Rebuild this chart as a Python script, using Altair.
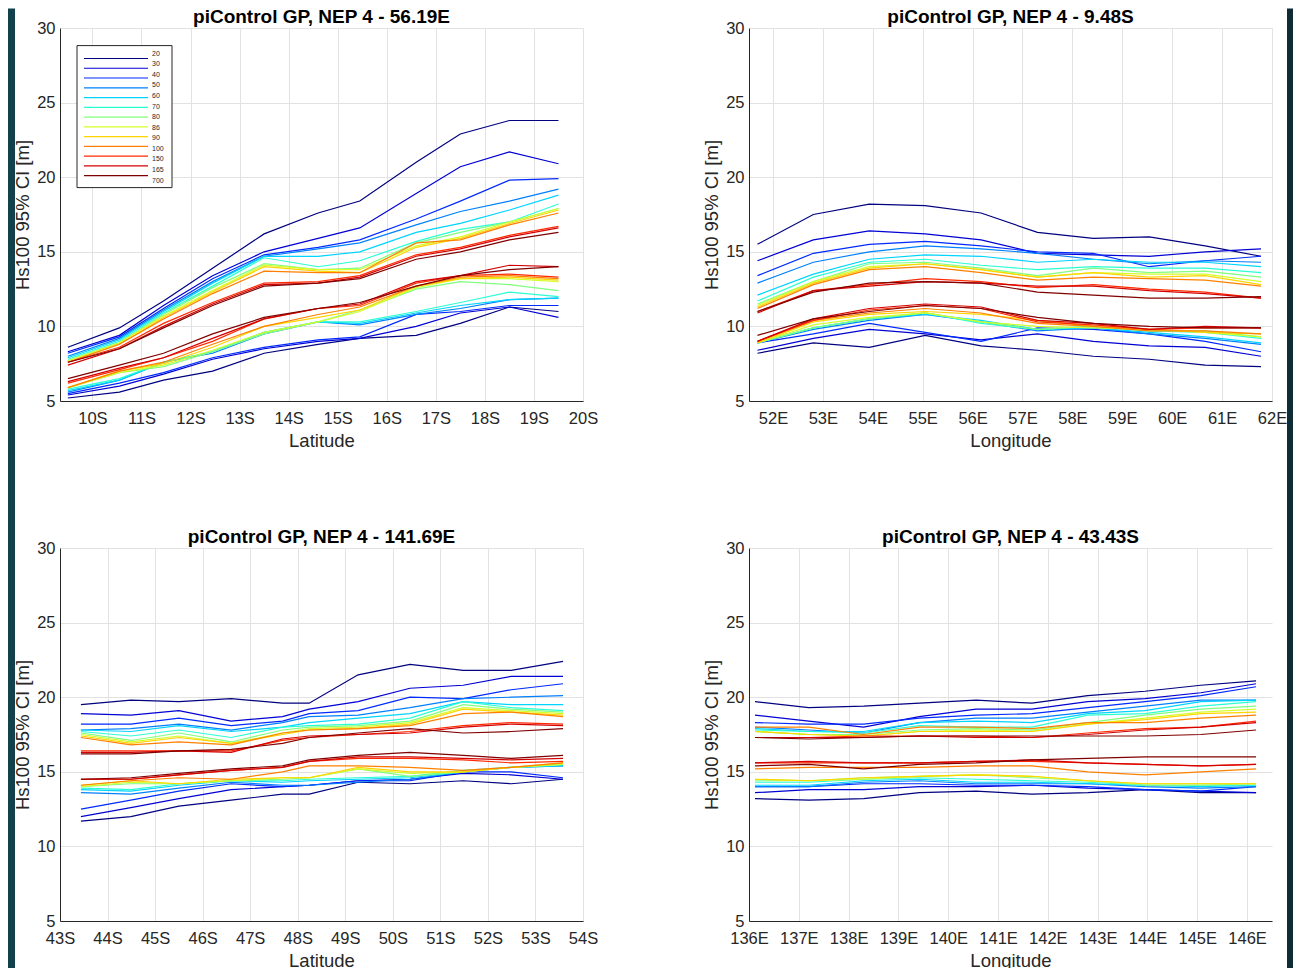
import altair as alt
import pandas as pd

FONT = "Liberation Sans"

RP = ["20", "30", "40", "50", "60", "70", "80", "86", "90", "100", "150", "165", "700"]
JET = ["#000080", "#0000d4", "#002aff", "#0080ff", "#00d4ff", "#2affd4", "#80ff80",
       "#d4ff2a", "#ffd400", "#ff8000", "#ff2a00", "#d40000", "#800000"]

# ---------------- panel 1 : latitude transect at 56.19E ----------------
P1_X = [9.5, 10.55, 11.45, 12.45, 13.5, 14.6, 15.45, 16.6, 17.5, 18.5, 19.5]
P1_UPPER = {
    "20": [8.6, 9.9, 11.7, 13.9, 16.2, 17.6, 18.4, 21.0, 22.9, 23.8, 23.8],
    "30": [8.3, 9.4, 11.4, 13.4, 15.0, 15.9, 16.6, 18.9, 20.7, 21.7, 20.9],
    "40": [8.2, 9.3, 11.2, 13.2, 14.8, 15.3, 15.8, 17.2, 18.4, 19.8, 19.9],
    "50": [8.0, 9.2, 11.1, 13.0, 14.7, 15.2, 15.6, 16.8, 17.7, 18.4, 19.2],
    "60": [7.9, 9.1, 11.0, 12.9, 14.7, 14.7, 15.0, 16.3, 16.9, 17.8, 18.8],
    "70": [7.8, 9.0, 10.9, 12.7, 14.6, 14.0, 14.4, 15.7, 16.5, 17.0, 18.2],
    "80": [7.7, 8.9, 10.8, 12.6, 14.2, 13.8, 13.9, 15.6, 16.3, 17.0, 17.9],
    "86": [7.7, 8.9, 10.7, 12.4, 14.1, 13.8, 13.8, 15.4, 16.0, 17.0, 17.9],
    "90": [7.6, 8.8, 10.6, 12.3, 14.0, 13.7, 13.6, 15.3, 15.9, 16.9, 17.8],
    "100": [7.6, 8.8, 10.5, 12.2, 13.7, 13.6, 13.6, 15.6, 15.8, 16.8, 17.6],
    "150": [7.6, 8.6, 10.2, 11.6, 12.9, 13.0, 13.4, 14.8, 15.3, 16.1, 16.7],
    "165": [7.4, 8.5, 10.0, 11.5, 12.8, 12.9, 13.3, 14.7, 15.2, 16.0, 16.6],
    "700": [7.6, 8.5, 9.9, 11.4, 12.7, 12.9, 13.2, 14.5, 15.0, 15.8, 16.3],
}
P1_LOWER = {
    "20": [5.2, 5.6, 6.4, 7.0, 8.2, 8.8, 9.2, 9.4, 10.2, 11.3, 11.0],
    "30": [5.4, 6.0, 6.8, 7.8, 8.5, 9.0, 9.2, 10.0, 10.9, 11.3, 10.6],
    "40": [5.5, 6.2, 6.9, 7.9, 8.6, 9.1, 9.3, 10.8, 11.0, 11.4, 11.4],
    "50": [5.6, 6.4, 7.6, 8.2, 9.5, 10.3, 10.1, 10.8, 11.2, 11.8, 11.9],
    "60": [5.7, 6.4, 7.6, 8.3, 9.6, 10.3, 10.2, 10.9, 11.4, 11.8, 11.9],
    "70": [5.8, 6.5, 7.6, 8.3, 9.6, 10.3, 10.3, 11.0, 11.6, 12.3, 12.0],
    "80": [5.9, 6.9, 7.3, 8.3, 9.5, 10.3, 11.1, 12.5, 13.0, 12.8, 12.4],
    "86": [5.9, 6.9, 7.4, 8.4, 9.6, 10.3, 11.0, 12.6, 13.2, 13.2, 13.0],
    "90": [5.9, 7.0, 7.5, 8.6, 10.0, 10.6, 11.1, 12.7, 13.2, 13.3, 13.1],
    "100": [5.9, 7.0, 7.6, 8.8, 10.0, 10.8, 11.3, 12.7, 13.3, 13.4, 13.2],
    "150": [6.2, 7.1, 7.9, 9.0, 10.5, 11.2, 11.4, 12.9, 13.4, 13.5, 13.3],
    "165": [6.3, 7.2, 7.9, 9.2, 10.5, 11.2, 11.5, 13.0, 13.4, 14.1, 14.0],
    "700": [6.5, 7.4, 8.2, 9.5, 10.6, 11.2, 11.6, 12.7, 13.4, 13.8, 14.0],
}

# ---------------- panel 2 : longitude transect at 9.48S ----------------
P2_X = [51.69, 52.81, 53.93, 55.05, 56.17, 57.3, 58.42, 59.54, 60.66, 61.78]
P2_UPPER = {
    "20": [15.5, 17.5, 18.2, 18.1, 17.6, 16.3, 15.9, 16.0, 15.4, 14.7],
    "30": [14.4, 15.8, 16.4, 16.2, 15.8, 14.9, 14.8, 14.7, 15.0, 15.2],
    "40": [13.4, 14.9, 15.5, 15.7, 15.4, 15.0, 14.9, 14.0, 14.4, 14.7],
    "50": [12.9, 14.3, 15.0, 15.4, 15.2, 14.9, 14.5, 14.2, 14.4, 14.3],
    "60": [12.1, 13.5, 14.5, 14.8, 14.7, 14.3, 14.5, 14.3, 14.3, 14.0],
    "70": [11.7, 13.3, 14.3, 14.5, 14.1, 13.8, 14.0, 13.9, 13.9, 13.6],
    "80": [11.5, 13.0, 14.2, 14.3, 13.9, 13.4, 13.9, 13.6, 13.7, 13.3],
    "86": [11.4, 13.0, 14.0, 14.2, 13.8, 13.3, 13.6, 13.5, 13.5, 13.0],
    "90": [11.3, 12.9, 13.9, 14.2, 13.8, 13.3, 13.6, 13.3, 13.4, 12.8],
    "100": [11.2, 12.8, 13.8, 14.0, 13.6, 13.1, 13.3, 13.2, 13.1, 12.7],
    "150": [11.0, 12.4, 12.8, 13.2, 13.0, 12.6, 12.8, 12.5, 12.3, 11.9],
    "165": [10.9, 12.4, 12.7, 13.0, 12.9, 12.7, 12.7, 12.4, 12.2, 11.9],
    "700": [11.0, 12.3, 12.9, 13.0, 12.9, 12.3, 12.1, 11.9, 11.9, 12.0],
}
P2_LOWER = {
    "20": [8.2, 8.9, 8.6, 9.4, 8.7, 8.4, 8.0, 7.8, 7.4, 7.3],
    "30": [8.4, 9.2, 9.8, 9.5, 9.1, 9.5, 9.0, 8.7, 8.6, 8.0],
    "40": [8.9, 9.5, 10.2, 9.6, 9.0, 9.9, 9.8, 9.5, 9.0, 8.3],
    "50": [8.9, 9.8, 10.4, 10.8, 10.3, 9.7, 9.9, 9.5, 9.2, 8.8],
    "60": [8.9, 9.9, 10.5, 10.8, 10.4, 9.8, 9.9, 9.6, 9.3, 8.9],
    "70": [8.9, 9.9, 10.5, 10.9, 10.2, 9.8, 10.0, 9.7, 9.6, 9.2],
    "80": [8.9, 9.9, 10.5, 10.9, 10.3, 9.8, 10.0, 9.7, 9.7, 9.3],
    "86": [8.9, 10.1, 10.6, 10.9, 10.3, 10.0, 9.9, 9.8, 9.6, 9.3],
    "90": [8.9, 10.3, 10.8, 11.0, 10.8, 10.4, 10.0, 9.8, 9.6, 9.5],
    "100": [9.0, 10.4, 10.9, 11.2, 10.9, 10.2, 10.0, 9.7, 9.7, 9.5],
    "150": [9.0, 10.4, 11.1, 11.4, 11.2, 10.3, 10.1, 9.8, 9.9, 9.9],
    "165": [9.0, 10.5, 11.2, 11.5, 11.3, 10.4, 10.2, 9.8, 10.0, 9.9],
    "700": [9.4, 10.5, 11.0, 11.4, 11.2, 10.6, 10.2, 10.0, 9.9, 9.9],
}

# ---------------- panel 3 : latitude transect at 141.69E ----------------
P3_X = [43.44, 44.49, 45.5, 46.6, 47.68, 48.24, 49.27, 50.36, 51.48, 52.49, 53.58]
P3_UPPER = {
    "20": [19.5, 19.8, 19.7, 19.9, 19.6, 19.6, 21.5, 22.2, 21.8, 21.8, 22.4],
    "30": [18.9, 18.8, 19.1, 18.4, 18.7, 19.2, 19.7, 20.6, 20.8, 21.4, 21.4],
    "40": [18.2, 18.2, 18.6, 18.1, 18.4, 18.9, 19.1, 20.0, 19.9, 20.5, 20.9],
    "50": [17.8, 17.9, 18.2, 17.8, 18.3, 18.7, 18.8, 19.3, 19.9, 20.0, 20.1],
    "60": [17.8, 17.7, 18.1, 17.7, 18.0, 18.3, 18.6, 18.9, 19.7, 19.5, 19.5],
    "70": [17.7, 17.4, 17.8, 17.3, 18.0, 18.1, 18.2, 18.6, 19.7, 19.3, 19.1],
    "80": [17.6, 17.1, 17.6, 17.0, 17.8, 18.0, 18.1, 18.4, 19.5, 19.2, 19.0],
    "86": [17.5, 17.0, 17.4, 16.9, 17.6, 17.9, 18.0, 18.3, 19.3, 19.1, 18.9],
    "90": [17.4, 16.9, 17.3, 16.9, 17.5, 17.8, 17.9, 18.2, 19.2, 19.0, 18.8],
    "100": [17.3, 16.8, 17.0, 16.8, 17.6, 17.8, 17.9, 18.1, 18.9, 19.0, 18.7],
    "150": [16.4, 16.4, 16.4, 16.4, 17.1, 17.3, 17.5, 17.7, 18.1, 18.3, 18.2],
    "165": [16.3, 16.3, 16.4, 16.3, 17.2, 17.4, 17.5, 17.6, 18.0, 18.2, 18.1],
    "700": [16.2, 16.2, 16.4, 16.5, 16.9, 17.3, 17.6, 17.9, 17.6, 17.7, 17.9],
}
P3_LOWER = {
    "20": [11.7, 12.0, 12.7, 13.1, 13.5, 13.5, 14.3, 14.2, 14.4, 14.2, 14.5],
    "30": [12.0, 12.6, 13.2, 13.8, 14.0, 14.1, 14.4, 14.5, 14.9, 14.8, 14.5],
    "40": [12.5, 13.1, 13.7, 14.2, 14.0, 14.1, 14.4, 14.4, 15.0, 15.0, 14.6],
    "50": [13.6, 13.5, 13.9, 14.3, 14.1, 14.1, 14.3, 14.5, 15.0, 15.3, 15.4],
    "60": [13.8, 13.7, 14.1, 14.4, 14.3, 14.4, 14.5, 14.6, 15.0, 15.3, 15.4],
    "70": [13.9, 13.8, 14.2, 14.4, 14.4, 14.5, 14.6, 14.7, 15.1, 15.3, 15.5],
    "80": [14.0, 14.2, 14.2, 14.4, 14.5, 14.6, 15.2, 14.7, 15.0, 15.3, 15.5],
    "86": [14.0, 14.3, 14.2, 14.4, 14.6, 14.6, 15.2, 14.9, 15.0, 15.3, 15.5],
    "90": [14.1, 14.4, 14.2, 14.5, 14.6, 14.6, 15.3, 15.0, 15.0, 15.3, 15.6],
    "100": [14.1, 14.4, 14.6, 14.5, 15.0, 15.4, 15.4, 15.3, 15.1, 15.3, 15.6],
    "150": [14.5, 14.5, 14.8, 15.1, 15.3, 15.7, 15.9, 15.9, 15.8, 15.6, 15.7],
    "165": [14.5, 14.5, 14.8, 15.1, 15.3, 15.7, 16.0, 16.0, 15.9, 15.8, 15.9],
    "700": [14.5, 14.6, 14.9, 15.2, 15.4, 15.8, 16.1, 16.3, 16.1, 15.9, 16.1],
}

# ---------------- panel 4 : longitude transect at 43.43S ----------------
P4_X = [136.12, 137.2, 138.3, 139.42, 140.56, 141.68, 142.8, 143.95, 145.07, 146.18]
P4_UPPER = {
    "20": [19.7, 19.3, 19.4, 19.6, 19.8, 19.6, 20.1, 20.4, 20.8, 21.1],
    "30": [18.8, 18.4, 18.0, 18.7, 19.2, 19.2, 19.7, 19.9, 20.3, 20.9],
    "40": [18.3, 18.2, 18.2, 18.6, 18.8, 18.9, 19.3, 19.7, 20.1, 20.7],
    "50": [18.0, 17.8, 17.6, 18.3, 18.6, 18.6, 19.0, 19.4, 19.8, 19.8],
    "60": [17.9, 17.7, 17.7, 18.3, 18.4, 18.3, 18.9, 19.1, 19.7, 19.8],
    "70": [17.8, 17.7, 17.6, 18.1, 18.0, 18.0, 18.8, 18.9, 19.4, 19.7],
    "80": [17.7, 17.5, 17.5, 17.8, 17.9, 17.8, 18.3, 18.8, 19.2, 19.4],
    "86": [17.7, 17.5, 17.4, 17.7, 17.8, 17.7, 18.2, 18.6, 19.0, 19.2],
    "90": [17.7, 17.5, 17.4, 17.7, 17.7, 17.7, 18.2, 18.5, 18.9, 19.0],
    "100": [18.0, 18.0, 17.5, 18.0, 18.0, 17.9, 18.3, 18.3, 18.6, 18.8],
    "150": [17.3, 17.3, 17.4, 17.4, 17.4, 17.3, 17.6, 17.9, 18.0, 18.4],
    "165": [17.3, 17.3, 17.3, 17.4, 17.3, 17.3, 17.5, 17.8, 18.0, 18.3],
    "700": [17.3, 17.2, 17.3, 17.4, 17.4, 17.4, 17.4, 17.4, 17.5, 17.8],
}
P4_LOWER = {
    "20": [13.2, 13.1, 13.2, 13.6, 13.7, 13.5, 13.6, 13.8, 13.6, 13.6],
    "30": [13.6, 13.8, 13.8, 14.0, 14.0, 14.1, 13.9, 13.8, 13.7, 13.6],
    "40": [14.0, 14.0, 14.2, 14.2, 14.1, 14.1, 14.0, 13.8, 13.7, 14.0],
    "50": [14.0, 14.0, 14.3, 14.4, 14.2, 14.2, 14.2, 14.0, 13.9, 14.0],
    "60": [14.1, 14.1, 14.4, 14.5, 14.3, 14.3, 14.2, 14.1, 14.0, 14.1],
    "70": [14.3, 14.3, 14.5, 14.6, 14.5, 14.4, 14.3, 14.1, 14.1, 14.1],
    "80": [14.4, 14.4, 14.6, 14.7, 14.8, 14.6, 14.4, 14.1, 14.1, 14.2],
    "86": [14.5, 14.4, 14.5, 14.7, 14.8, 14.7, 14.4, 14.2, 14.2, 14.2],
    "90": [14.5, 14.4, 14.6, 14.7, 14.8, 14.7, 14.4, 14.2, 14.2, 14.2],
    "100": [15.2, 15.3, 15.3, 15.3, 15.4, 15.4, 15.0, 14.8, 15.0, 15.2],
    "150": [15.6, 15.6, 15.6, 15.6, 15.7, 15.7, 15.6, 15.5, 15.4, 15.5],
    "165": [15.6, 15.7, 15.6, 15.6, 15.7, 15.8, 15.6, 15.5, 15.4, 15.5],
    "700": [15.4, 15.5, 15.2, 15.5, 15.6, 15.8, 15.9, 16.0, 16.0, 16.0],
}

TITLES = ["piControl GP, NEP 4 - 56.19E", "piControl GP, NEP 4 -  9.48S",
          "piControl GP, NEP 4 - 141.69E", "piControl GP, NEP 4 - 43.43S"]
Y_TICKS = [5, 10, 15, 20, 25, 30]

W, H = 523, 373


def frame(xs, upper, lower):
    rows = []
    for rp in RP:
        for bound, d in (("upper", upper), ("lower", lower)):
            for i, (x, y) in enumerate(zip(xs, d[rp])):
                rows.append({"rp": rp, "series": f"{rp}-{bound}", "x": x, "y": y, "i": i})
    return pd.DataFrame(rows)


color_enc = alt.Color("rp:N", scale=alt.Scale(domain=RP, range=JET), legend=None)


def panel(df, dom, ticks, suffix, xtitle):
    return alt.Chart(df).mark_line(strokeWidth=1.2, clip=True).encode(
        x=alt.X("x:Q", scale=alt.Scale(domain=dom, nice=False, zero=False),
                axis=alt.Axis(values=ticks, labelExpr=f"datum.value + '{suffix}'", title=xtitle)),
        y=alt.Y("y:Q", scale=alt.Scale(domain=[5, 30], nice=False, zero=False),
                axis=alt.Axis(values=Y_TICKS, title="Hs100 95% CI [m]")),
        color=color_enc,
        detail="series:N",
        order="i:Q",
    )


def title_mark(text):
    # panel title, centred over the plot area
    return alt.Chart(pd.DataFrame({"t": [text]})).mark_text(
        font=FONT, fontSize=19, fontWeight="bold", color="#000000",
        align="center", baseline="alphabetic"
    ).encode(x=alt.value(W / 2), y=alt.value(-5), text="t:N")


def strip(x0, x1, colour):
    # dark page border around the white figure sheet (decoration only)
    return alt.Chart(pd.DataFrame({"k": [0]})).mark_rect(fill=colour, clip=False).encode(
        x=alt.value(x0), x2=alt.value(x1), y=alt.value(-19.4), y2=alt.value(941))


p1_lines = panel(frame(P1_X, P1_UPPER, P1_LOWER), [9.34, 20], list(range(10, 21)), "S", "Latitude")
p2_lines = panel(frame(P2_X, P2_UPPER, P2_LOWER), [51.52, 62], list(range(52, 63)), "E", "Longitude")
p3_lines = panel(frame(P3_X, P3_UPPER, P3_LOWER), [43, 54], list(range(43, 55)), "S", "Latitude")
p4_lines = panel(frame(P4_X, P4_UPPER, P4_LOWER), [136, 146.5], list(range(136, 147)), "E", "Longitude")

# legend drawn inside panel 1
leg_df = pd.DataFrame({"rp": RP})
leg_y = alt.Y("rp:O", scale=alt.Scale(domain=RP, range=[25.6, 152.6], padding=0), axis=None)
leg_box = alt.Chart(pd.DataFrame({"k": [0]})).mark_rect(
    fill="white", stroke="#262626", strokeWidth=1
).encode(x=alt.value(17), x2=alt.value(112), y=alt.value(17.6), y2=alt.value(159.6))
leg_rules = alt.Chart(leg_df).mark_rule(strokeWidth=1.2).encode(
    x=alt.value(24), x2=alt.value(88), y=leg_y, color=color_enc)
leg_text = alt.Chart(leg_df).mark_text(
    align="left", baseline="middle", font=FONT, fontSize=7, color="#262626"
).encode(x=alt.value(92), y=leg_y, text="rp:N")

p1 = alt.layer(strip(-52, -45, "#13404d"), p1_lines, leg_box, leg_rules, leg_text,
               title_mark(TITLES[0])).resolve_scale(y="independent").properties(width=W, height=H)
p2 = alt.layer(strip(538, 544, "#0f2b35"), p2_lines, title_mark(TITLES[1])).properties(width=W, height=H)
p3 = alt.layer(p3_lines, title_mark(TITLES[2])).properties(width=W, height=H)
p4 = alt.layer(p4_lines, title_mark(TITLES[3])).properties(width=W, height=H)

chart = alt.concat(
    p1, p2, p3, p4, columns=2, spacing={"row": 147, "column": 166}, bounds="flush"
).properties(
    padding={"left": 0, "top": 0, "right": 0, "bottom": 0}
).configure(
    font=FONT, background="white"
).configure_view(
    stroke=None
).configure_axis(
    domainColor="#262626", domainWidth=1, gridColor="#e2e2e2", gridWidth=1, tickSize=0,
    labelFont=FONT, labelFontSize=16.5, labelColor="#262626",
    titleFont=FONT, titleFontSize=18.5, titleFontWeight="normal", titleColor="#262626",
    labelFlush=False, labelOverlap=False, labelBound=False,
).configure_axisX(
    labelPadding=9, titlePadding=5
).configure_axisY(
    labelPadding=5, titlePadding=4
)

chart.save("out.html", embed_options={"renderer": "svg", "actions": False})
